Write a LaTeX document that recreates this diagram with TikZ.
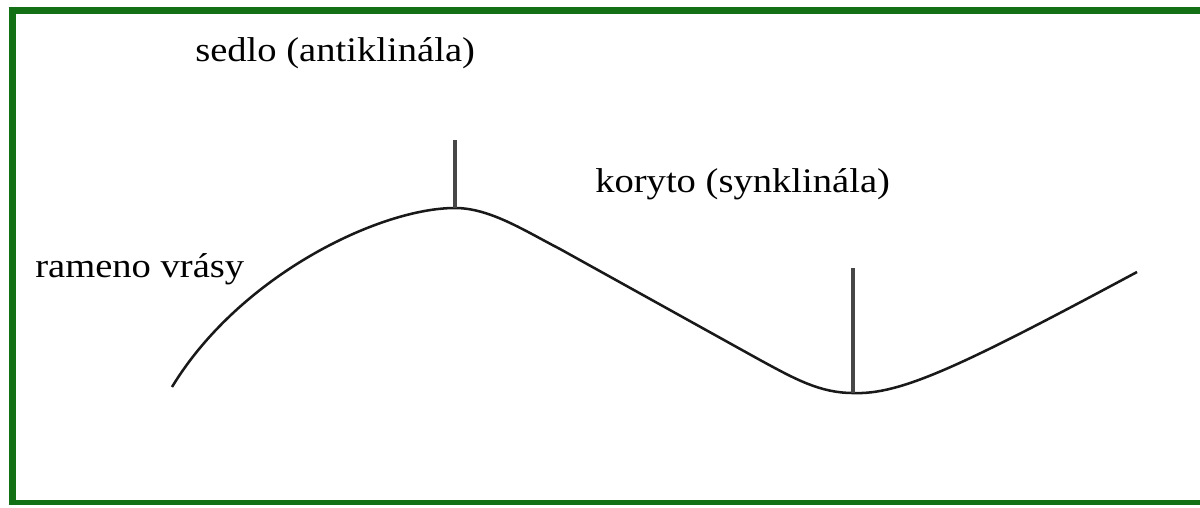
\documentclass[tikz,border=0pt]{standalone}
\usepackage{fontspec}
\setmainfont{Liberation Serif}
\newfontfamily\labelfont[FakeStretch=1.12]{Liberation Serif}
\usepackage{tikz}
\definecolor{framegreen}{RGB}{20,112,20}
\tikzset{
    %Define style for the labels
    popis/.style={
           anchor=base west,
           inner sep=0pt,
           font=\labelfont\fontsize{24.5}{29}\selectfont},
    % Define style for the fold line
    vrstva/.style={
           line width=1.8pt,
           black!90},
    % Define style for the axis marks
    osa/.style={
           line width=2.4pt,
           black!72},
    % Frame round the picture
    ramecek/.style={
           framegreen,
           line cap=butt}
}

\begin{document}
\begin{tikzpicture}[x=0.025cm, y=0.025cm]
    \useasboundingbox (0,0) rectangle (1200,507);
    % frame
    \draw[ramecek, line width=5pt] (1200,496.5) -- (9,496.5);
    \draw[ramecek, line width=5pt] (12.5,500) -- (12.5,2);
    \draw[ramecek, line width=3.6pt] (9,4.5) -- (1200,4.5);
    % labels
    \node[popis] (sedlo) at (195,445) {sedlo (antiklinála)};
    \node[popis] (koryto) at (595,314) {koryto (synklinála)};
    \node[popis] (rameno) at (35,229) {rameno vrásy};
    % fold
    \coordinate (zacatek) at (172,120);
    \coordinate (vrchol) at (455,299);
    \coordinate (ohybA) at (560,258);
    \coordinate (ohybB) at (760,147);
    \coordinate (dno) at (853,114);
    \coordinate (konec) at (1137,235);
    \draw[vrstva] (zacatek) .. controls (240,232) and (380,299) .. (vrchol)
        .. controls (490,299) and (525,276) .. (ohybA)
        -- (ohybB)
        .. controls (795,128) and (820,114) .. (dno)
        .. controls (900,112) and (960,140) .. (konec);
    % axes
    \coordinate (vrcholtop) at (455,367);
    \coordinate (dnotop) at (853,239);
    \draw[osa] (vrchol) -- (vrcholtop);
    \draw[osa] (dno) -- (dnotop);
\end{tikzpicture}
\end{document}
